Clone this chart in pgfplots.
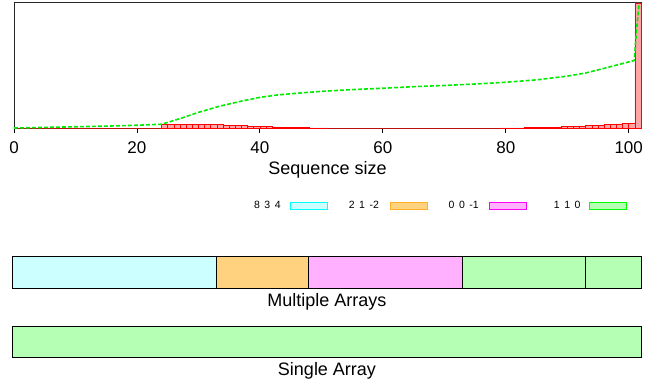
\documentclass[border=0pt]{standalone}
\usepackage{pgfplots}
\pgfplotsset{compat=1.18}
\usepackage{fontspec}
\setmainfont{Liberation Sans}

\definecolor{cfill}{RGB}{204,255,255}
\definecolor{cdraw}{RGB}{0,255,255}
\definecolor{ofill}{RGB}{255,210,128}
\definecolor{odraw}{RGB}{255,175,40}
\definecolor{mfill}{RGB}{255,176,255}
\definecolor{mdraw}{RGB}{255,0,255}
\definecolor{gfill}{RGB}{180,255,180}
\definecolor{gdraw}{RGB}{0,255,0}
\definecolor{gline}{RGB}{0,235,0}
\definecolor{rfill}{RGB}{255,165,165}

\pgfplotstableread{
x y
0 0
1 0
2 0
3 0
4 0
5 0
6 0
7 0
8 0
9 0
10 0
11 0
12 0
13 0
14 0
15 0
16 0
17 0
18 0
19 0
20 0
21 0
22 0
23 0
24 0.032
25 0.032
26 0.032
27 0.031
28 0.031
29 0.030
30 0.030
31 0.029
32 0.028
33 0.027
34 0.025
35 0.023
36 0.021
37 0.019
38 0.017
39 0.015
40 0.013
41 0.011
42 0.009
43 0.007
44 0.006
45 0.005
46 0.004
47 0.003
48 0.002
49 0.001
50 0.001
51 0
52 0
53 0
54 0
55 0
56 0
57 0
58 0
59 0
60 0
61 0
62 0
63 0
64 0
65 0
66 0
67 0
68 0
69 0
70 0
71 0
72 0
73 0
74 0
75 0
76 0
77 0
78 0
79 0.001
80 0.001
81 0.002
82 0.002
83 0.003
84 0.004
85 0.005
86 0.006
87 0.008
88 0.010
89 0.012
90 0.014
91 0.016
92 0.018
93 0.020
94 0.022
95 0.024
96 0.027
97 0.030
98 0.033
99 0.036
100 0.040
101 1.0
102 1.0
}\histdata

\pgfplotstableread{
x y
0 0
5 0.005
10 0.01
15 0.015
20 0.022
24 0.03
27 0.075
30 0.125
33.5 0.175
37 0.215
40 0.245
43 0.265
46.5 0.28
50 0.293
55 0.307
60 0.318
66 0.333
70 0.34
75 0.352
80 0.366
85 0.385
90 0.415
93 0.44
97 0.49
100.9 0.54
101.3 0.8
101.7 1.0
}\cumdata

\begin{document}
\begin{tikzpicture}
\useasboundingbox (0pt,0pt) rectangle (658pt,381pt);
\clip (0pt,0pt) rectangle (643pt,381pt);
\begin{axis}[
  at={(14pt,253pt)}, anchor=south west,
  scale only axis, width=627pt, height=125pt,
  xmin=0, xmax=102, ymin=0, ymax=1,
  xtick={0,20,40,60,80,100}, ytick=\empty,
  xtick pos=bottom, tick align=outside, major tick length=5pt,
  tick style={black, line width=0.8pt},
  axis line style={black!85, line width=1pt},
  ticklabel style={font=\fontsize{17}{20}\selectfont, yshift=-5pt},
  /pgf/number format/assume math mode=true,
  xlabel={Sequence size},
  xlabel style={font=\fontsize{18}{21}\selectfont, yshift=-1pt},
  clip=false,
]
\addplot[ybar interval, fill=rfill, draw=red, line width=0.5pt] table[x=x,y=y] {\histdata};
\addplot[gline, line width=1.6pt, dash pattern=on 4pt off 2pt] table[x=x,y=y] {\cumdata};
\end{axis}

\begin{axis}[
  at={(13pt,93pt)}, anchor=south west,
  scale only axis, width=628pt, height=32pt,
  xmin=0, xmax=102, ymin=-0.5, ymax=0.5,
  xbar stacked, bar width=32pt,
  axis line style={draw=none}, ticks=none,
  xlabel={Multiple Arrays},
  xlabel style={font=\fontsize{18}{21}\selectfont, yshift=-2pt},
  clip=false,
  legend columns=4, legend plot pos=right,
  legend style={at={(0.9817,2.5625)}, anchor=east, draw=none, fill=none,
    font=\fontsize{10.5}{12}\selectfont,
    /tikz/every odd column/.append style={column sep=8pt},
    /tikz/every even column/.append style={column sep=21pt},
    nodes={inner sep=0pt}},
]
\addplot[fill=cfill, draw=black, line width=1pt,
  legend image code/.code={\draw[fill=cfill,draw=cdraw,line width=0.8pt] (0pt,-3.5pt) rectangle (37pt,3.5pt);}]
  coordinates {(33,0)};
\addlegendentry{\makebox[28pt][l]{8\hspace{4.5pt}3\hspace{4.5pt}4}}
\addplot[fill=ofill, draw=black, line width=1pt,
  legend image code/.code={\draw[fill=ofill,draw=odraw,line width=0.8pt] (0pt,-3.5pt) rectangle (37pt,3.5pt);}]
  coordinates {(15,0)};
\addlegendentry{\makebox[33pt][l]{2\hspace{4.5pt}1\hspace{4.5pt}-2}}
\addplot[fill=mfill, draw=black, line width=1pt,
  legend image code/.code={\draw[fill=mfill,draw=mdraw,line width=0.8pt] (0pt,-3.5pt) rectangle (37pt,3.5pt);}]
  coordinates {(25,0)};
\addlegendentry{\makebox[32pt][l]{0\hspace{4.5pt}0\hspace{4.5pt}-1}}
\addplot[fill=gfill, draw=black, line width=1pt,
  legend image code/.code={\draw[fill=gfill,draw=gdraw,line width=0.8pt] (0pt,-3.5pt) rectangle (37pt,3.5pt);}]
  coordinates {(20,0)};
\addlegendentry{\makebox[33pt][r]{1\hspace{4.5pt}1\hspace{4.5pt}0}}
\addplot[fill=gfill, draw=black, line width=1pt] coordinates {(9,0)};
\end{axis}

\begin{axis}[
  at={(13pt,24pt)}, anchor=south west,
  scale only axis, width=628pt, height=31pt,
  xmin=0, xmax=102, ymin=-0.5, ymax=0.5,
  xbar stacked, bar width=31pt,
  axis line style={draw=none}, ticks=none,
  xlabel={Single Array},
  xlabel style={font=\fontsize{18}{21}\selectfont, yshift=-2pt},
  clip=false,
]
\addplot[fill=gfill, draw=black, line width=1pt] coordinates {(102,0)};
\end{axis}
\end{tikzpicture}
\end{document}
